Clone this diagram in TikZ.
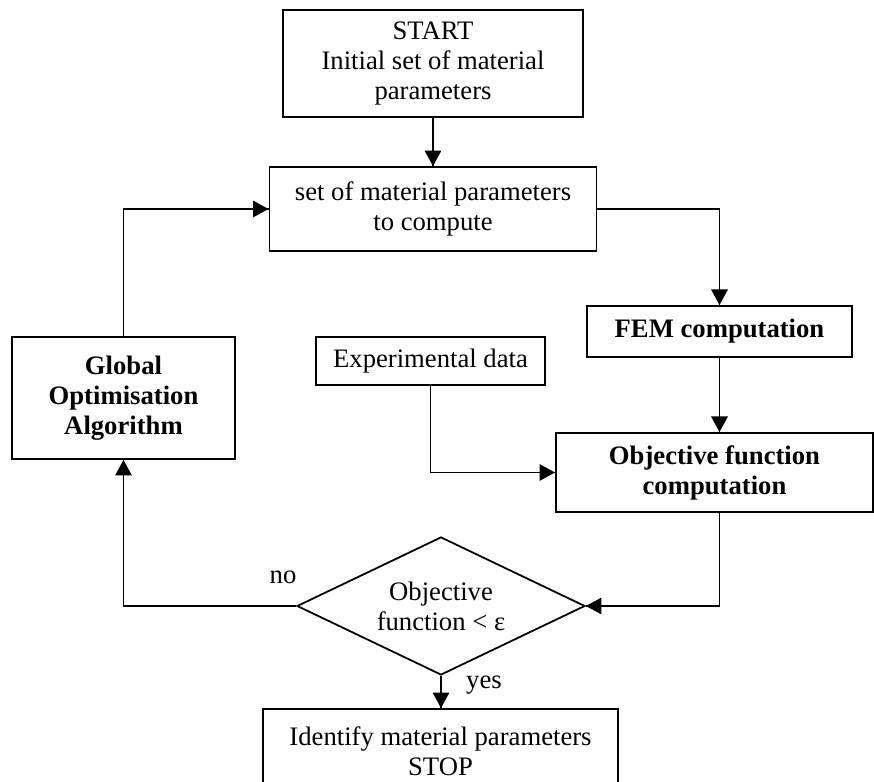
\documentclass[tikz,border=0pt]{standalone}
\usepackage{fontspec}
\setmainfont{Liberation Serif}
\usetikzlibrary{arrows.meta}
\usetikzlibrary{decorations.markings}
\usetikzlibrary{shapes.geometric}
\tikzset{->/.style = {decoration={markings,
                                  mark=at position 1 with {\arrow{Triangle[length=7pt, width=7.4pt]}}},
                      postaction={decorate}}}
\tikzset{blk/.style = {draw, align = center, inner sep = 0}}
\tikzset{bblk/.style = {blk, font = \fontsize{12}{13.5}\selectfont\bfseries}}
\tikzset{dmd/.style = {draw, diamond, aspect = 2.09, align = center, inner sep = 0}}

\begin{document}
\begin{tikzpicture}[x = 0.45pt, y = -0.45pt, line width = 0.8pt,
                    font = \fontsize{12}{13.5}\selectfont]
      \useasboundingbox (0, 0) rectangle (874, 782);

      \node [blk, minimum width = 135pt, minimum height = 48.2pt] (start) at (433, 63.5)
            {START\\Initial set of material\\parameters};
      \node [blk, minimum width = 147.2pt, minimum height = 37.8pt] (compute) at (433, 209)
            {set of material parameters\\to compute};
      \node [bblk, minimum width = 119.3pt, minimum height = 23pt] (fem) at (719.5, 331.5)
            {FEM computation};
      \node [blk, minimum width = 103pt, minimum height = 21.6pt] (expdata) at (430.5, 361)
            {Experimental data};
      \node [bblk, minimum width = 100.4pt, minimum height = 54.9pt] (globalopt) at (123.5, 398)
            {Global\\Optimisation\\Algorithm};
      \node [bblk, minimum width = 142.7pt, minimum height = 35.6pt] (objfun) at (714.5, 472.5)
            {Objective function\\computation};
      \node [dmd, minimum width = 129.6pt, minimum height = 62.1pt] (check) at (441, 606)
            {Objective\\function < ε};
      \node [blk, minimum width = 159.8pt, minimum height = 37.8pt] (stop) at (440.5, 751)
            {Identify material parameters\\STOP};

      \node (no) at (283, 577) {no};
      \node (yes) at (484, 685) {yes};

      \draw [->] (start) -- (compute);
      \draw [->] (compute.east) -| (fem.north);
      \draw [->] (fem.south) -- (fem.south |- objfun.north);
      \draw [->] (expdata.south) |- (objfun.west);
      \draw [->] (fem.south |- objfun.south) |- (check.east);
      \draw [->] (check.west) -| (globalopt.south);
      \draw [->] (globalopt.north) |- (compute.west);
      \draw [->] (check.south) -- (check.south |- stop.north);
    \end{tikzpicture}
\end{document}
